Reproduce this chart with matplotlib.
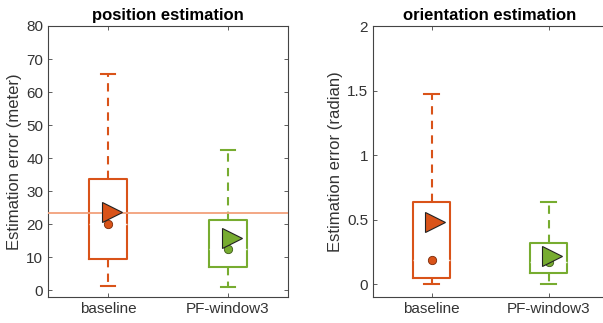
import matplotlib
matplotlib.use("Agg")
import matplotlib.pyplot as plt

plt.rcParams['font.family'] = ['Liberation Sans', 'DejaVu Sans']

# 类别与颜色
categories = ["baseline", "PF-window3"]
colors = ["#D95319", "#77AC30"]

# 位置误差 (meter): 箱线统计
pos_whislo = [1.3, 1.0]
pos_q1 = [9.4, 6.9]
pos_med = [20.0, 12.4]
pos_q3 = [33.5, 21.1]
pos_whishi = [65.5, 42.4]
pos_mean = [23.5, 15.7]
pos_ref = 23.4

# 方向误差 (radian): 箱线统计
ori_whislo = [0.0, 0.0]
ori_q1 = [0.044, 0.083]
ori_med = [0.19, 0.17]
ori_q3 = [0.633, 0.32]
ori_whishi = [1.475, 0.636]
ori_mean = [0.48, 0.217]

text_color = "#333333"


def draw_boxes(ax, whislo, q1, med, q3, whishi, mean):
    stats = []
    for i, name in enumerate(categories):
        stats.append({"label": name, "whislo": whislo[i], "q1": q1[i],
                      "med": med[i], "q3": q3[i], "whishi": whishi[i]})
    bp = ax.bxp(stats, positions=[1, 2], widths=0.31, showfliers=False,
                patch_artist=False, manage_ticks=False)
    for i, c in enumerate(colors):
        bp['boxes'][i].set(color=c, linewidth=1.5)
        bp['medians'][i].set(color="white", linewidth=1.0, alpha=0.8)
        for w in bp['whiskers'][2 * i:2 * i + 2]:
            w.set(color=c, linewidth=1.5, linestyle=(0, (4, 3)))
        for cap in bp['caps'][2 * i:2 * i + 2]:
            cap.set(color=c, linewidth=1.5)
            xd = cap.get_xdata()
            mid = (xd[0] + xd[1]) / 2
            cap.set_xdata([mid - 0.06, mid + 0.06])
        # 中位数圆点
        ax.plot(i + 1, med[i], 'o', ms=6, mfc=c, mec="#7a2a08" if i == 0 else "#3d5a18",
                mew=0.6, zorder=4)
        # 均值三角
        ax.plot(i + 1.03, mean[i], '>', ms=15, mfc=c, mec="#222222", mew=0.8, zorder=5)


def style_axis(ax, ylabel, title):
    ax.set_xlim(0.5, 2.5)
    ax.set_xticks([1, 2])
    ax.set_xticklabels(categories)
    ax.set_ylabel(ylabel, fontsize=12, color=text_color, labelpad=3)
    ax.set_title(title, fontsize=12, fontweight="bold", color="black", pad=4)
    ax.tick_params(direction="in", length=3, top=True, right=True,
                   labelsize=11, labelcolor=text_color, color="#444444",
                   width=0.6)
    for sp in ax.spines.values():
        sp.set_color("#444444")
        sp.set_linewidth(0.8)


fig = plt.figure(figsize=(6.03, 3.23), dpi=100)

ax1 = fig.add_axes([48 / 603, 1 - 297 / 323, 240 / 603, 271 / 323])
draw_boxes(ax1, pos_whislo, pos_q1, pos_med, pos_q3, pos_whishi, pos_mean)
ax1.axhline(pos_ref, color="#F2A07B", linewidth=1.3, zorder=3)
ax1.set_ylim(-2.1, 80)
ax1.set_yticks(range(0, 81, 10))
style_axis(ax1, "Estimation error (meter)", "position estimation")

ax2 = fig.add_axes([373 / 603, 1 - 297 / 323, 234 / 603, 271 / 323])
draw_boxes(ax2, ori_whislo, ori_q1, ori_med, ori_q3, ori_whishi, ori_mean)
ax2.set_ylim(-0.1, 2)
ax2.set_yticks([0, 0.5, 1, 1.5, 2])
ax2.set_yticklabels(["0", "0.5", "1", "1.5", "2"])
style_axis(ax2, "Estimation error (radian)", "orientation estimation")

fig.savefig("out.png", dpi=100)
